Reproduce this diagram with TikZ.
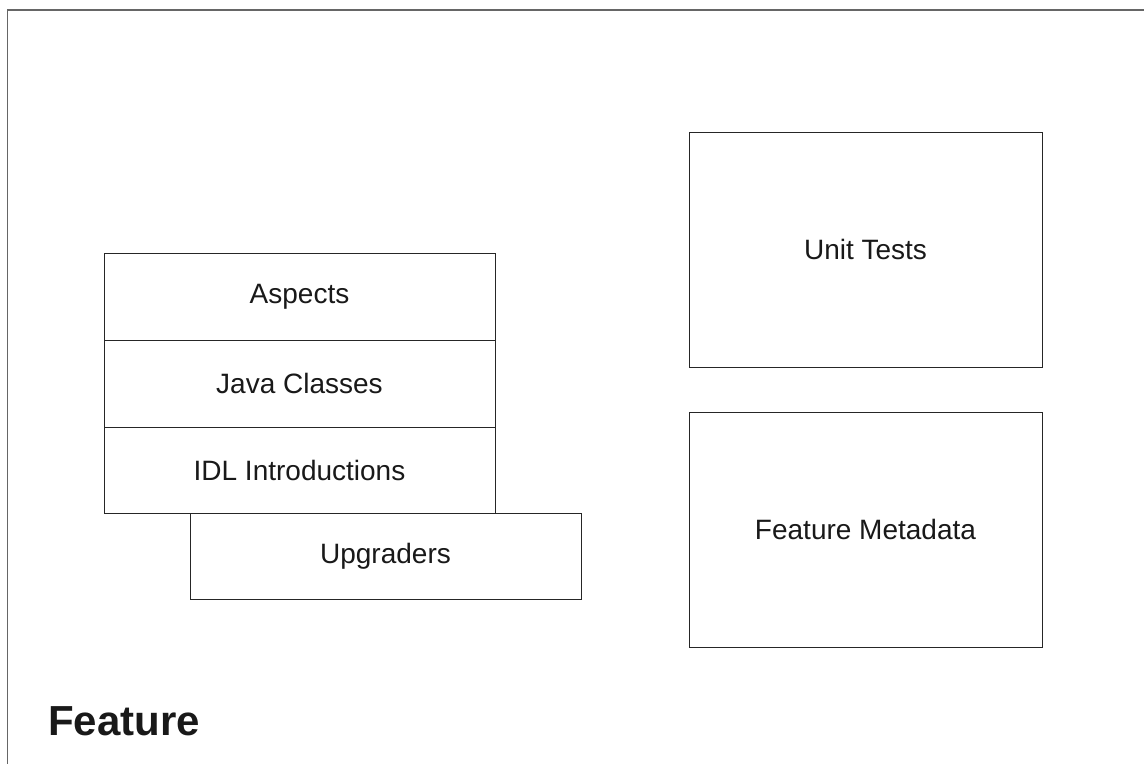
\documentclass[tikz,border=0pt]{standalone}
\usepackage{fontspec}
\setmainfont{Liberation Sans}
\begin{document}
\begin{tikzpicture}[x=1pt,y=-1pt,
  box/.style={draw=black!85,line width=1pt,fill=white,inner sep=0pt,font=\fontsize{28}{32}\selectfont,text=black!90},
  frame/.style={draw=black!60,line width=1.2pt}]
\useasboundingbox (0,0) rectangle (1144,764);
\coordinate (ftop) at (1144,10);
\coordinate (fcorner) at (7.5,10);
\coordinate (fbot) at (7.5,764);
\draw[frame] (ftop) -- (fcorner) -- (fbot);
\node[box,minimum width=391pt,minimum height=87pt] (asp) at (299.5,296.5) {Aspects};
\node[box,minimum width=391pt,minimum height=87pt] (java) at (299.5,383.5) {Java Classes};
\node[box,minimum width=391pt,minimum height=86pt] (idl) at (299.5,470) {IDL Introductions};
\node[box,minimum width=391pt,minimum height=86pt] (upg) at (385.5,556) {Upgraders};
\node[box,minimum width=353pt,minimum height=235pt] (unit) at (865.5,249.5) {Unit Tests};
\node[box,minimum width=353pt,minimum height=235pt] (meta) at (865.5,529.5) {Feature Metadata};
\node[anchor=base west,inner sep=0pt,font=\bfseries\fontsize{42}{48}\selectfont,text=black!90] (title) at (48,735) {Feature};
\end{tikzpicture}
\end{document}
